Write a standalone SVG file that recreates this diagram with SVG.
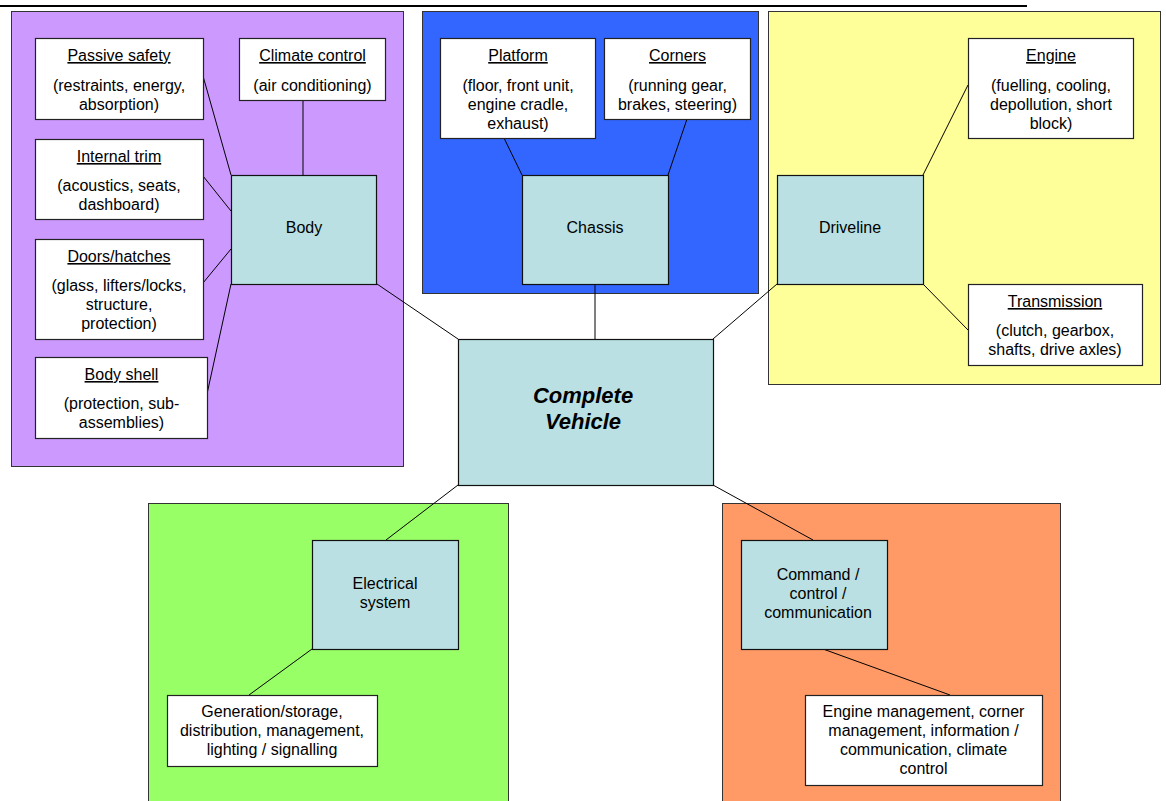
<svg xmlns="http://www.w3.org/2000/svg" width="1166" height="801" viewBox="0 0 1166 801">
<style>
text{font-family:"Liberation Sans",Arial,sans-serif;font-size:16px;fill:#000;text-anchor:middle}
.t{text-decoration:underline}
.big{font-size:22px;font-weight:bold;font-style:italic}
.panel{stroke:#333;stroke-width:1}
.box{fill:#fff;stroke:#222;stroke-width:1.2}
.node{fill:#BAE0E3;stroke:#111;stroke-width:1.2}
.conn line{stroke:#000;stroke-width:1}
</style>
<rect width="1166" height="801" fill="#fff"/>
<line x1="0" y1="6" x2="1027" y2="6" stroke="#000" stroke-width="2"/>
<g id="panels">
<rect class="panel" x="11.5" y="11.5" width="392" height="455" fill="#CC99FF"/>
<rect class="panel" x="422.5" y="11.5" width="336" height="282" fill="#3366FF"/>
<rect class="panel" x="768.5" y="11.5" width="392" height="373" fill="#FFFF99"/>
<rect class="panel" x="148.5" y="503.5" width="360" height="310" fill="#99FF66"/>
<rect class="panel" x="722.5" y="503.5" width="338" height="310" fill="#FF9966"/>
</g>
<g class="conn" id="connectors">
<line x1="203" y1="76" x2="231" y2="175"/>
<line x1="303" y1="100" x2="303" y2="175"/>
<line x1="203" y1="176" x2="231" y2="211"/>
<line x1="203" y1="283" x2="231" y2="249"/>
<line x1="207" y1="394" x2="231" y2="284"/>
<line x1="377" y1="284" x2="458" y2="339"/>
<line x1="504" y1="138" x2="522" y2="175"/>
<line x1="687" y1="119" x2="668" y2="175"/>
<line x1="595" y1="284" x2="595" y2="339"/>
<line x1="968" y1="85" x2="923" y2="175"/>
<line x1="968" y1="330" x2="923" y2="284"/>
<line x1="777" y1="284" x2="713" y2="339"/>
<line x1="458" y1="485" x2="386" y2="540"/>
<line x1="312" y1="649" x2="249" y2="695"/>
<line x1="713" y1="485" x2="813" y2="540"/>
<line x1="823" y1="649" x2="950" y2="695"/>
</g>
<g id="passive-safety">
<rect class="box" x="35.5" y="38.5" width="168" height="81"/>
<text class="t" x="119" y="61">Passive safety</text>
<text x="119" y="91">(restraints, energy,</text>
<text x="119" y="110">absorption)</text>
</g>
<g id="climate-control">
<rect class="box" x="239.5" y="38.5" width="146" height="62"/>
<text class="t" x="312.5" y="61">Climate control</text>
<text x="312.5" y="91">(air conditioning)</text>
</g>
<g id="internal-trim">
<rect class="box" x="35.5" y="139.5" width="168" height="80"/>
<text class="t" x="119" y="162">Internal trim</text>
<text x="119" y="191">(acoustics, seats,</text>
<text x="119" y="210">dashboard)</text>
</g>
<g id="doors-hatches">
<rect class="box" x="35.5" y="239.5" width="168" height="100"/>
<text class="t" x="119" y="262">Doors/hatches</text>
<text x="119" y="291">(glass, lifters/locks,</text>
<text x="119" y="310">structure,</text>
<text x="119" y="329">protection)</text>
</g>
<g id="body-shell">
<rect class="box" x="35.5" y="357.5" width="172" height="81"/>
<text class="t" x="121.5" y="380">Body shell</text>
<text x="121.5" y="409">(protection, sub-</text>
<text x="121.5" y="428">assemblies)</text>
</g>
<g id="body">
<rect class="node" x="231.5" y="175.5" width="145" height="109"/>
<text x="304" y="233">Body</text>
</g>
<g id="platform">
<rect class="box" x="440.5" y="38.5" width="155" height="100"/>
<text class="t" x="518" y="61">Platform</text>
<text x="518" y="91">(floor, front unit,</text>
<text x="518" y="110">engine cradle,</text>
<text x="518" y="129">exhaust)</text>
</g>
<g id="corners">
<rect class="box" x="604.5" y="38.5" width="146" height="81"/>
<text class="t" x="677.5" y="61">Corners</text>
<text x="677.5" y="91">(running gear,</text>
<text x="677.5" y="110">brakes, steering)</text>
</g>
<g id="chassis">
<rect class="node" x="522.5" y="175.5" width="146" height="109"/>
<text x="595" y="233">Chassis</text>
</g>
<g id="engine">
<rect class="box" x="968.5" y="38.5" width="165" height="100"/>
<text class="t" x="1051" y="61">Engine</text>
<text x="1051" y="91">(fuelling, cooling,</text>
<text x="1051" y="110">depollution, short</text>
<text x="1051" y="129">block)</text>
</g>
<g id="transmission">
<rect class="box" x="968.5" y="284.5" width="174" height="81"/>
<text class="t" x="1055" y="307">Transmission</text>
<text x="1055" y="336">(clutch, gearbox,</text>
<text x="1055" y="355">shafts, drive axles)</text>
</g>
<g id="driveline">
<rect class="node" x="777.5" y="175.5" width="146" height="109"/>
<text x="850" y="233">Driveline</text>
</g>
<g id="complete-vehicle">
<rect class="node" x="458.5" y="339.5" width="255" height="146"/>
<text class="big" x="583" y="403">Complete</text>
<text class="big" x="583" y="429">Vehicle</text>
</g>
<g id="electrical-system">
<rect class="node" x="312.5" y="540.5" width="146" height="109"/>
<text x="385" y="589">Electrical</text>
<text x="385" y="608">system</text>
</g>
<g id="generation">
<rect class="box" x="167.5" y="695.5" width="210" height="71"/>
<text x="272" y="717">Generation/storage,</text>
<text x="272" y="736">distribution, management,</text>
<text x="272" y="755">lighting / signalling</text>
</g>
<g id="command">
<rect class="node" x="741.5" y="540.5" width="146" height="109"/>
<text x="818" y="580">Command /</text>
<text x="818" y="599">control /</text>
<text x="818" y="618">communication</text>
</g>
<g id="engine-management">
<rect class="box" x="805.5" y="695.5" width="237" height="90"/>
<text x="923.5" y="717">Engine management, corner</text>
<text x="923.5" y="736">management, information /</text>
<text x="923.5" y="755">communication, climate</text>
<text x="923.5" y="774">control</text>
</g>
</svg>
